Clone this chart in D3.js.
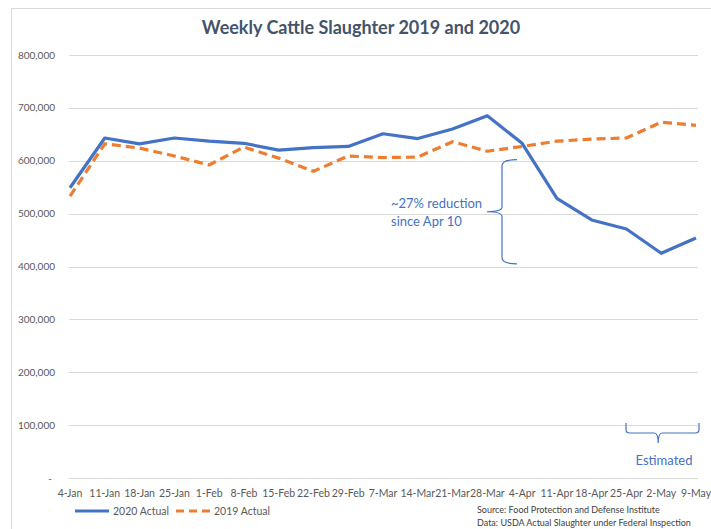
<!DOCTYPE html>
<html>
<head>
<meta charset="utf-8">
<script src="https://cdn.jsdelivr.net/npm/d3@7"></script>
<style>
  body { margin: 0; background: #fff; }
  svg { font-family: Lato, "Open Sans", sans-serif; }
</style>
</head>
<body>
<svg width="711" height="529"></svg>
<script>
// weeks on the x axis
var weeks = ["4-Jan", "11-Jan", "18-Jan", "25-Jan", "1-Feb", "8-Feb", "15-Feb", "22-Feb", "29-Feb",
  "7-Mar", "14-Mar", "21-Mar", "28-Mar", "4-Apr", "11-Apr", "18-Apr", "25-Apr", "2-May", "9-May"];

// head per week
var actual2020 = [549000, 643000, 632000, 643000, 637000, 633000, 620000, 625000, 627000,
  651000, 642000, 660000, 685000, 633000, 529000, 488000, 471000, 425000, 454000];
var actual2019 = [533000, 632000, 624000, 609000, 592000, 626000, 605000, 580000, 609000,
  606000, 607000, 636000, 618000, 627000, 637000, 641000, 643000, 673000, 667000];

var yTicks = [0, 100000, 200000, 300000, 400000, 500000, 600000, 700000, 800000];

var series = [
  {id: "2020 Actual", values: actual2020, color: "#4472C4", dash: null},
  {id: "2019 Actual", values: actual2019, color: "#ED7D31", dash: "9,5"}
];

var svg = d3.select("svg");
var blue = "#4472C4";

// chart frame
svg.append("rect")
  .attr("x", 11.5).attr("y", 8.5)
  .attr("width", 720).attr("height", 540)
  .attr("fill", "none").attr("stroke", "#D9D9D9");

var x = d3.scalePoint().domain(weeks).range([70, 696]);
var y = d3.scaleLinear().domain([0, 800000]).range([478, 55]);

var fmt = d3.format(",");

// title
svg.append("text")
  .attr("x", 361).attr("y", 34)
  .attr("text-anchor", "middle")
  .attr("font-size", 18).attr("font-weight", "bold")
  .attr("fill", "#44546A")
  .text("Weekly Cattle Slaughter 2019 and 2020");

// gridlines + y labels
var gy = svg.append("g").attr("class", "axis axis--y");
gy.selectAll("line").data(yTicks).enter().append("line")
  .attr("x1", 69).attr("x2", 698)
  .attr("y1", function(d) { return Math.round(y(d)) + 0.5; })
  .attr("y2", function(d) { return Math.round(y(d)) + 0.5; })
  .attr("stroke", "#D9D9D9").attr("stroke-width", 1);
gy.selectAll("text").data(yTicks).enter().append("text")
  .attr("x", function(d) { return d === 0 ? 52 : 55; })
  .attr("y", function(d) { return y(d); })
  .attr("dy", "0.35em")
  .attr("text-anchor", "end")
  .attr("font-size", 10).attr("fill", "#595959")
  .text(function(d) { return d === 0 ? "-" : fmt(d); });

// x labels
svg.append("g").attr("class", "axis axis--x")
  .selectAll("text").data(weeks).enter().append("text")
  .attr("x", function(d) { return x(d); })
  .attr("y", 497)
  .attr("text-anchor", "middle")
  .attr("font-size", 10.5).attr("fill", "#595959")
  .text(function(d) { return d; });

// lines
var line = d3.line()
  .x(function(d, i) { return x(weeks[i]); })
  .y(function(d) { return y(d); });

svg.selectAll(".line").data(series.slice().reverse()).enter().append("path")
  .attr("class", "line")
  .attr("d", function(d) { return line(d.values); })
  .attr("fill", "none")
  .attr("stroke", function(d) { return d.color; })
  .attr("stroke-width", 3.2)
  .attr("stroke-linejoin", "round")
  .attr("stroke-dasharray", function(d) { return d.dash; });

// reduction brace
var bTop = y(602000), bBot = y(405000), bMid = (bTop + bBot) / 2;
var bx = 502;
svg.append("path")
  .attr("d", "M517," + bTop + " Q" + bx + "," + bTop + " " + bx + "," + (bTop + 6) +
    " L" + bx + "," + (bMid - 5) + " Q" + bx + "," + bMid + " 487," + bMid +
    " Q" + bx + "," + bMid + " " + bx + "," + (bMid + 5) +
    " L" + bx + "," + (bBot - 6) + " Q" + bx + "," + bBot + " 517," + bBot)
  .attr("fill", "none").attr("stroke", blue).attr("stroke-width", 1.2);

svg.append("text")
  .attr("x", 391).attr("y", 208)
  .attr("font-size", 13).attr("fill", blue)
  .text("~27% reduction");
svg.append("text")
  .attr("x", 391).attr("y", 226)
  .attr("font-size", 13).attr("fill", blue)
  .text("since Apr 10");

// estimated brace under the last weeks
var eL = 626, eR = 699, eT = 423, eM = 433, eTip = (x("25-Apr") + x("9-May")) / 2 - 3;
svg.append("path")
  .attr("d", "M" + eL + "," + eT + " L" + eL + "," + (eM - 3) + " Q" + eL + "," + eM + " " + (eL + 4) + "," + eM +
    " L" + (eTip - 4) + "," + eM + " Q" + eTip + "," + eM + " " + eTip + "," + (eM + 10) +
    " Q" + eTip + "," + eM + " " + (eTip + 4) + "," + eM +
    " L" + (eR - 4) + "," + eM + " Q" + eR + "," + eM + " " + eR + "," + (eM - 3) + " L" + eR + "," + eT)
  .attr("fill", "none").attr("stroke", blue).attr("stroke-width", 1.2);
svg.append("text")
  .attr("x", 664).attr("y", 465)
  .attr("text-anchor", "middle")
  .attr("font-size", 13).attr("fill", blue)
  .text("Estimated");

// legend
var legend = svg.selectAll(".legend").data(series).enter().append("g")
  .attr("class", "legend")
  .attr("transform", function(d, i) { return "translate(" + (75 + i * 101) + ",511)"; });
legend.append("line")
  .attr("x1", 0).attr("x2", 34)
  .attr("stroke", function(d) { return d.color; })
  .attr("stroke-width", 3)
  .attr("stroke-dasharray", function(d) { return d.dash ? "8,5" : null; });
legend.append("text")
  .attr("x", 38).attr("dy", "0.35em")
  .attr("font-size", 10.5).attr("fill", "#595959")
  .text(function(d) { return d.id; });

// source notes
svg.append("text")
  .attr("x", 477).attr("y", 513)
  .attr("font-size", 9).attr("fill", "#404040")
  .text("Source: Food Protection and Defense Institute");
svg.append("text")
  .attr("x", 477).attr("y", 526)
  .attr("font-size", 9).attr("fill", "#404040")
  .text("Data: USDA Actual Slaughter under Federal Inspection");
</script>
</body>
</html>
